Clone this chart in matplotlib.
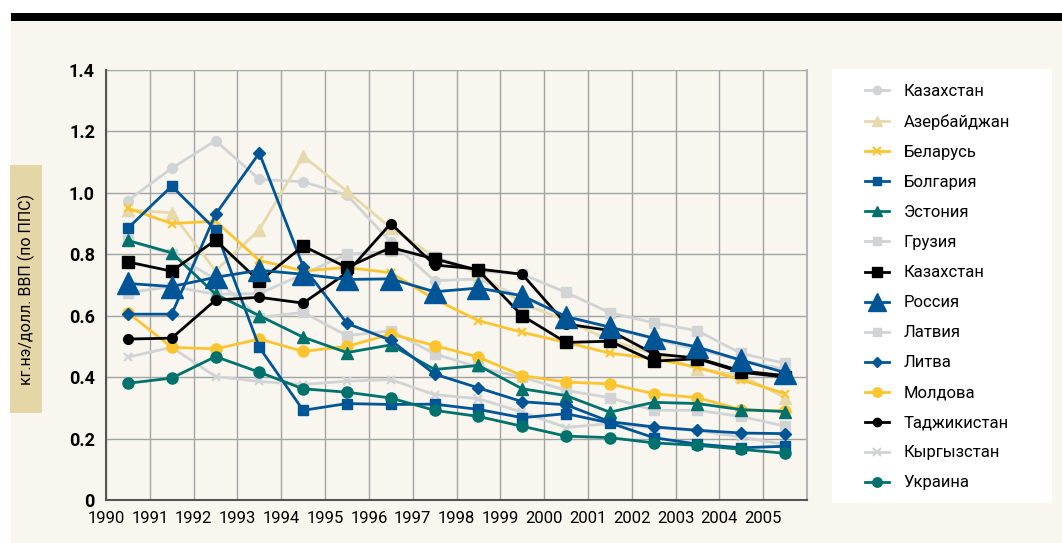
import matplotlib.pyplot as plt
from matplotlib.patches import Rectangle
import numpy as np

# годы и значения (кг н.э. / долл. ВВП по ППС)
years = list(range(1990, 2006))

kazakhstan_c = [0.975, 1.08, 1.17, 1.044, 1.036, 0.993, 0.84, 0.714, 0.72, 0.66, 0.60, 0.56, 0.525, 0.49, 0.455, 0.425]
azerbaijan = [0.945, 0.935, 0.746, 0.88, 1.12, 1.005, 0.886, 0.792, 0.738, 0.64, 0.585, 0.52, 0.476, 0.428, 0.405, 0.333]
belarus = [0.95, 0.90, 0.908, 0.78, 0.746, 0.757, 0.74, 0.654, 0.584, 0.546, 0.513, 0.478, 0.46, 0.432, 0.391, 0.346]
bulgaria = [0.885, 1.022, 0.88, 0.497, 0.292, 0.314, 0.311, 0.312, 0.295, 0.268, 0.281, 0.251, 0.203, 0.182, 0.17, 0.175]
estonia = [0.845, 0.805, 0.67, 0.60, 0.53, 0.48, 0.505, 0.425, 0.438, 0.362, 0.34, 0.286, 0.318, 0.314, 0.294, 0.288]
georgia = [0.675, 0.695, 0.67, 0.672, 0.735, 0.80, 0.81, 0.79, 0.745, 0.735, 0.676, 0.61, 0.577, 0.551, 0.477, 0.445]
kazakhstan_s = [0.775, 0.745, 0.846, 0.712, 0.827, 0.757, 0.822, 0.785, 0.748, 0.60, 0.513, 0.517, 0.452, 0.46, 0.416, 0.40]
russia = [0.705, 0.695, 0.725, 0.748, 0.735, 0.718, 0.72, 0.678, 0.69, 0.665, 0.597, 0.563, 0.527, 0.498, 0.455, 0.415]
latvia = [0.845, 0.80, 0.72, 0.594, 0.611, 0.535, 0.551, 0.476, 0.432, 0.40, 0.357, 0.333, 0.292, 0.292, 0.272, 0.24]
lithuania = [0.605, 0.605, 0.93, 1.13, 0.76, 0.575, 0.52, 0.41, 0.365, 0.32, 0.31, 0.255, 0.238, 0.227, 0.218, 0.216]
moldova = [0.61, 0.497, 0.492, 0.524, 0.484, 0.50, 0.54, 0.503, 0.465, 0.405, 0.384, 0.378, 0.346, 0.333, 0.294, 0.29]
tajikistan = [0.524, 0.527, 0.651, 0.66, 0.641, 0.74, 0.90, 0.765, 0.752, 0.735, 0.573, 0.552, 0.476, 0.462, 0.42, 0.405]
kyrgyzstan = [0.465, 0.497, 0.402, 0.386, 0.376, 0.387, 0.392, 0.343, 0.33, 0.286, 0.236, 0.249, 0.235, 0.226, 0.205, 0.18]
ukraine = [0.38, 0.397, 0.467, 0.416, 0.362, 0.351, 0.332, 0.292, 0.272, 0.24, 0.208, 0.203, 0.186, 0.178, 0.165, 0.152]

GRAY = '#d2d3d5'
BEIGE = '#e6d9ab'
YELLOW = '#fcc530'
BLUE = '#005596'
TEAL = '#00716c'
BLACK = '#000000'
CREAM = '#f8f6ef'

# (название, данные, цвет, маркер, размер, zorder)
series = [
    ('Казахстан', kazakhstan_c, GRAY, 'o', 7, 3),
    ('Азербайджан', azerbaijan, BEIGE, '^', 9, 3),
    ('Беларусь', belarus, YELLOW, 'x', 6, 4),
    ('Болгария', bulgaria, BLUE, 's', 7, 4),
    ('Эстония', estonia, TEAL, '^', 8, 4),
    ('Грузия', georgia, GRAY, 's', 7, 3),
    ('Казахстан', kazakhstan_s, BLACK, 's', 9, 5),
    ('Россия', russia, BLUE, '^', 16, 6),
    ('Латвия', latvia, GRAY, 's', 7, 3),
    ('Литва', lithuania, BLUE, 'D', 6, 4),
    ('Молдова', moldova, YELLOW, 'o', 8, 3.5),
    ('Таджикистан', tajikistan, BLACK, 'o', 7, 5),
    ('Кыргызстан', kyrgyzstan, GRAY, 'x', 6, 3),
    ('Украина', ukraine, TEAL, 'o', 8, 4),
]

plt.rcParams['font.family'] = ['Roboto', 'DejaVu Sans']

fig = plt.figure(figsize=(10.62, 5.43), dpi=100)
W, H = 1062, 543

# фон и чёрная полоса
fig.patches.append(Rectangle((11 / W, 0), 1 - 11 / W, 1 - 21 / H, transform=fig.transFigure,
                             facecolor=CREAM, edgecolor='none', zorder=-2))
fig.patches.append(Rectangle((11 / W, 1 - 21 / H), 1 - 11 / W, 8 / H, transform=fig.transFigure,
                             facecolor='black', edgecolor='none', zorder=-2))
# белая подложка легенды
fig.patches.append(Rectangle((832 / W, 1 - 503 / H), 220 / W, 434 / H, transform=fig.transFigure,
                             facecolor='white', edgecolor='none', zorder=-1))
# плашка подписи оси
fig.patches.append(Rectangle((10 / W, 1 - 413 / H), 32 / W, 248 / H, transform=fig.transFigure,
                             facecolor='#e5d6a7', edgecolor='none', zorder=-1))
fig.text(26 / W, 1 - 289 / H, 'кг.нэ/долл. ВВП (по ППС)', rotation=90, ha='center', va='center',
         fontsize=11.5, color='black')

ax = fig.add_axes([106 / W, 1 - 500 / H, 701 / W, 430 / H])
ax.set_facecolor(CREAM)

x = np.array(years) + 0.5
handles = []
for name, vals, col, mk, ms, z in series:
    mew = 1.6 if mk == 'x' else 1
    h, = ax.plot(x, vals, color=col, marker=mk, markersize=ms, linewidth=2,
                 markeredgewidth=mew, markeredgecolor=col, zorder=z, label=name)
    handles.append(h)

ax.set_xlim(1990, 2006)
ax.set_ylim(0, 1.4)
ax.set_xticks(years)
ax.set_xticklabels([str(y) for y in years], fontsize=12)
ax.set_yticks([0, 0.2, 0.4, 0.6, 0.8, 1.0, 1.2, 1.4])
ax.set_yticklabels(['0', '0.2', '0.4', '0.6', '0.8', '1.0', '1.2', '1.4'], fontsize=13,
                   fontweight='bold')
ax.tick_params(length=0, pad=8)
ax.grid(True, color='#a3a3a3', linewidth=1)
ax.set_axisbelow(True)
ax.spines['right'].set_color('#b5b5b5')
ax.spines['right'].set_linewidth(1.5)
ax.spines['top'].set_visible(False)
for s in ['left', 'bottom']:
    ax.spines[s].set_color('#555555')
    ax.spines[s].set_linewidth(1.5)

fig.legend(handles=handles, loc='upper left', bbox_to_anchor=(857 / W, 1 - 76 / H),
           frameon=False, fontsize=12, handlelength=1.4, handletextpad=0.9,
           labelspacing=0.9, borderpad=0, markerscale=0.85)

fig.savefig('out.png', dpi=100)
